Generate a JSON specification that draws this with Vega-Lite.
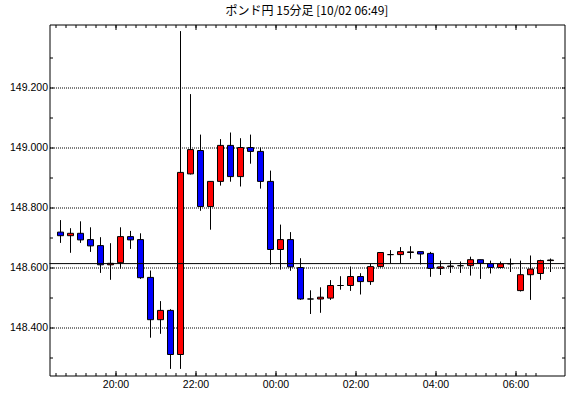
{
  "$schema": "https://vega.github.io/schema/vega-lite/v6.json",
  "width": 515,
  "height": 351,
  "autosize": {"type": "none"},
  "padding": {"left": 49.5, "top": 24.5, "right": 5.5, "bottom": 22.5},
  "background": "white",
  "title": {
    "text": "ポンド円 15分足 [10/02 06:49]",
    "font": "Noto Sans CJK JP",
    "fontSize": 12,
    "fontWeight": "normal",
    "color": "black",
    "anchor": "middle",
    "frame": "group",
    "offset": 6
  },
  "config": {
    "view": {"stroke": "black", "strokeWidth": 1},
    "axis": {
      "domain": false,
      "grid": false,
      "tickColor": "black",
      "tickWidth": 1,
      "labelColor": "black",
      "labelFont": "Liberation Sans",
      "labelFontSize": 10.5,
      "labelOverlap": false,
      "labelFlush": false,
      "labelBound": false,
      "title": null
    }
  },
  "data": {
    "values": [
      {"t": "2023-10-01T18:30:00Z", "o": 148.718, "h": 148.758, "l": 148.682, "c": 148.706},
      {"t": "2023-10-01T18:45:00Z", "o": 148.706, "h": 148.731, "l": 148.649, "c": 148.714},
      {"t": "2023-10-01T19:00:00Z", "o": 148.714, "h": 148.754, "l": 148.682, "c": 148.692},
      {"t": "2023-10-01T19:15:00Z", "o": 148.693, "h": 148.734, "l": 148.652, "c": 148.672},
      {"t": "2023-10-01T19:30:00Z", "o": 148.673, "h": 148.701, "l": 148.582, "c": 148.609},
      {"t": "2023-10-01T19:45:00Z", "o": 148.609, "h": 148.681, "l": 148.559, "c": 148.614},
      {"t": "2023-10-01T20:00:00Z", "o": 148.616, "h": 148.734, "l": 148.596, "c": 148.703},
      {"t": "2023-10-01T20:15:00Z", "o": 148.703, "h": 148.722, "l": 148.662, "c": 148.692},
      {"t": "2023-10-01T20:30:00Z", "o": 148.693, "h": 148.714, "l": 148.562, "c": 148.566},
      {"t": "2023-10-01T20:45:00Z", "o": 148.567, "h": 148.590, "l": 148.366, "c": 148.426},
      {"t": "2023-10-01T21:00:00Z", "o": 148.426, "h": 148.488, "l": 148.379, "c": 148.457},
      {"t": "2023-10-01T21:15:00Z", "o": 148.457, "h": 148.461, "l": 148.262, "c": 148.310},
      {"t": "2023-10-01T21:30:00Z", "o": 148.310, "h": 149.388, "l": 148.262, "c": 148.917},
      {"t": "2023-10-01T21:45:00Z", "o": 148.912, "h": 149.178, "l": 148.910, "c": 148.993},
      {"t": "2023-10-01T22:00:00Z", "o": 148.990, "h": 149.043, "l": 148.789, "c": 148.803},
      {"t": "2023-10-01T22:15:00Z", "o": 148.803, "h": 148.887, "l": 148.726, "c": 148.887},
      {"t": "2023-10-01T22:30:00Z", "o": 148.887, "h": 149.028, "l": 148.873, "c": 149.007},
      {"t": "2023-10-01T22:45:00Z", "o": 149.007, "h": 149.050, "l": 148.886, "c": 148.903},
      {"t": "2023-10-01T23:00:00Z", "o": 148.903, "h": 149.031, "l": 148.870, "c": 149.000},
      {"t": "2023-10-01T23:15:00Z", "o": 149.000, "h": 149.043, "l": 148.946, "c": 148.987},
      {"t": "2023-10-01T23:30:00Z", "o": 148.987, "h": 149.000, "l": 148.863, "c": 148.887},
      {"t": "2023-10-01T23:45:00Z", "o": 148.887, "h": 148.923, "l": 148.609, "c": 148.660},
      {"t": "2023-10-02T00:00:00Z", "o": 148.660, "h": 148.743, "l": 148.593, "c": 148.693},
      {"t": "2023-10-02T00:15:00Z", "o": 148.693, "h": 148.718, "l": 148.589, "c": 148.602},
      {"t": "2023-10-02T00:30:00Z", "o": 148.600, "h": 148.631, "l": 148.492, "c": 148.495},
      {"t": "2023-10-02T00:45:00Z", "o": 148.495, "h": 148.524, "l": 148.445, "c": 148.495},
      {"t": "2023-10-02T01:00:00Z", "o": 148.495, "h": 148.534, "l": 148.449, "c": 148.501},
      {"t": "2023-10-02T01:15:00Z", "o": 148.498, "h": 148.558, "l": 148.492, "c": 148.540},
      {"t": "2023-10-02T01:30:00Z", "o": 148.540, "h": 148.571, "l": 148.526, "c": 148.540},
      {"t": "2023-10-02T01:45:00Z", "o": 148.540, "h": 148.603, "l": 148.522, "c": 148.570},
      {"t": "2023-10-02T02:00:00Z", "o": 148.570, "h": 148.581, "l": 148.510, "c": 148.553},
      {"t": "2023-10-02T02:15:00Z", "o": 148.553, "h": 148.613, "l": 148.542, "c": 148.603},
      {"t": "2023-10-02T02:30:00Z", "o": 148.603, "h": 148.650, "l": 148.600, "c": 148.650},
      {"t": "2023-10-02T02:45:00Z", "o": 148.643, "h": 148.658, "l": 148.613, "c": 148.643},
      {"t": "2023-10-02T03:00:00Z", "o": 148.643, "h": 148.668, "l": 148.613, "c": 148.653},
      {"t": "2023-10-02T03:15:00Z", "o": 148.650, "h": 148.671, "l": 148.629, "c": 148.652},
      {"t": "2023-10-02T03:30:00Z", "o": 148.653, "h": 148.653, "l": 148.610, "c": 148.645},
      {"t": "2023-10-02T03:45:00Z", "o": 148.647, "h": 148.652, "l": 148.569, "c": 148.597},
      {"t": "2023-10-02T04:00:00Z", "o": 148.597, "h": 148.623, "l": 148.575, "c": 148.602},
      {"t": "2023-10-02T04:15:00Z", "o": 148.603, "h": 148.623, "l": 148.582, "c": 148.605},
      {"t": "2023-10-02T04:30:00Z", "o": 148.606, "h": 148.620, "l": 148.582, "c": 148.606},
      {"t": "2023-10-02T04:45:00Z", "o": 148.606, "h": 148.636, "l": 148.573, "c": 148.626},
      {"t": "2023-10-02T05:00:00Z", "o": 148.626, "h": 148.626, "l": 148.562, "c": 148.614},
      {"t": "2023-10-02T05:15:00Z", "o": 148.613, "h": 148.623, "l": 148.580, "c": 148.600},
      {"t": "2023-10-02T05:30:00Z", "o": 148.600, "h": 148.620, "l": 148.597, "c": 148.612},
      {"t": "2023-10-02T05:45:00Z", "o": 148.612, "h": 148.630, "l": 148.585, "c": 148.613},
      {"t": "2023-10-02T06:00:00Z", "o": 148.523, "h": 148.623, "l": 148.520, "c": 148.576},
      {"t": "2023-10-02T06:15:00Z", "o": 148.576, "h": 148.640, "l": 148.492, "c": 148.595},
      {"t": "2023-10-02T06:30:00Z", "o": 148.580, "h": 148.626, "l": 148.559, "c": 148.623},
      {"t": "2023-10-02T06:45:00Z", "o": 148.623, "h": 148.630, "l": 148.585, "c": 148.625}
    ]
  },
  "layer": [
    {
      "mark": {"type": "rule", "color": "black", "strokeWidth": 1, "xOffset": 5},
      "encoding": {
        "x": {
          "field": "t",
          "type": "temporal",
          "scale": {"type": "utc", "domain": [1696184460000, 1696230810000], "padding": 0},
          "axis": {
            "orient": "bottom",
            "values": [1696185000000, 1696185900000, 1696186800000, 1696187700000, 1696188600000, 1696189500000, 1696190400000, 1696191300000, 1696192200000, 1696193100000, 1696194000000, 1696194900000, 1696195800000, 1696196700000, 1696197600000, 1696198500000, 1696199400000, 1696200300000, 1696201200000, 1696202100000, 1696203000000, 1696203900000, 1696204800000, 1696205700000, 1696206600000, 1696207500000, 1696208400000, 1696209300000, 1696210200000, 1696211100000, 1696212000000, 1696212900000, 1696213800000, 1696214700000, 1696215600000, 1696216500000, 1696217400000, 1696218300000, 1696219200000, 1696220100000, 1696221000000, 1696221900000, 1696222800000, 1696223700000, 1696224600000, 1696225500000, 1696226400000, 1696227300000, 1696228200000],
            "labels": false,
            "offset": -3,
            "tickSize": 3
          }
        },
        "y": {
          "field": "l",
          "type": "quantitative",
          "scale": {"domain": [148.24, 149.41], "nice": false, "zero": false, "padding": 0},
          "axis": {
            "orient": "left",
            "values": [148.3, 148.5, 148.7, 148.9, 149.1, 149.3],
            "labels": false,
            "offset": -3,
            "tickSize": 3
          }
        },
        "y2": {"field": "h"}
      }
    },
    {
      "transform": [{"filter": "datum.c > datum.o"}],
      "mark": {"type": "bar", "size": 6, "xOffset": 5, "color": "#ff0000", "stroke": "black", "strokeWidth": 1},
      "encoding": {
        "x": {
          "field": "t",
          "type": "temporal",
          "scale": {"type": "utc", "domain": [1696184460000, 1696230810000], "padding": 0},
          "axis": {
            "orient": "bottom",
            "values": [1696190400000, 1696197600000, 1696204800000, 1696212000000, 1696219200000, 1696226400000],
            "format": "%H:%M",
            "offset": -5,
            "tickSize": 5,
            "labelPadding": 4
          }
        },
        "y": {
          "field": "o",
          "type": "quantitative",
          "scale": {"domain": [148.24, 149.41], "nice": false, "zero": false, "padding": 0},
          "axis": {
            "orient": "left",
            "values": [148.4, 148.6, 148.8, 149.0, 149.2],
            "format": ".3f",
            "offset": -4,
            "tickSize": 4,
            "labelPadding": 2,
            "grid": true,
            "gridColor": "black",
            "gridDash": [1, 1],
            "gridWidth": 1
          }
        },
        "y2": {"field": "c"}
      }
    },
    {
      "transform": [{"filter": "datum.c < datum.o"}],
      "mark": {"type": "bar", "size": 6, "xOffset": 5, "color": "#0000ff", "stroke": "black", "strokeWidth": 1},
      "encoding": {
        "x": {
          "field": "t",
          "type": "temporal",
          "scale": {"type": "utc", "domain": [1696184460000, 1696230810000], "padding": 0},
          "axis": {
            "orient": "top",
            "values": [1696185000000, 1696185900000, 1696186800000, 1696187700000, 1696188600000, 1696189500000, 1696190400000, 1696191300000, 1696192200000, 1696193100000, 1696194000000, 1696194900000, 1696195800000, 1696196700000, 1696197600000, 1696198500000, 1696199400000, 1696200300000, 1696201200000, 1696202100000, 1696203000000, 1696203900000, 1696204800000, 1696205700000, 1696206600000, 1696207500000, 1696208400000, 1696209300000, 1696210200000, 1696211100000, 1696212000000, 1696212900000, 1696213800000, 1696214700000, 1696215600000, 1696216500000, 1696217400000, 1696218300000, 1696219200000, 1696220100000, 1696221000000, 1696221900000, 1696222800000, 1696223700000, 1696224600000, 1696225500000, 1696226400000, 1696227300000, 1696228200000],
            "labels": false,
            "offset": -3,
            "tickSize": 3
          }
        },
        "y": {
          "field": "o",
          "type": "quantitative",
          "scale": {"domain": [148.24, 149.41], "nice": false, "zero": false, "padding": 0},
          "axis": {
            "orient": "right",
            "values": [148.3, 148.4, 148.5, 148.6, 148.7, 148.8, 148.9, 149.0, 149.1, 149.2, 149.3],
            "labels": false,
            "offset": -3,
            "tickSize": 3
          }
        },
        "y2": {"field": "c"}
      }
    },
    {
      "transform": [{"filter": "datum.c == datum.o"}],
      "mark": {"type": "bar", "size": 6, "xOffset": 5, "color": "black", "stroke": "black", "strokeWidth": 1},
      "encoding": {
        "x": {
          "field": "t",
          "type": "temporal",
          "scale": {"type": "utc", "domain": [1696184460000, 1696230810000], "padding": 0},
          "axis": {
            "orient": "top",
            "values": [1696190400000, 1696197600000, 1696204800000, 1696212000000, 1696219200000, 1696226400000],
            "labels": false,
            "offset": -5,
            "tickSize": 5
          }
        },
        "y": {
          "field": "o",
          "type": "quantitative",
          "scale": {"domain": [148.24, 149.41], "nice": false, "zero": false, "padding": 0},
          "axis": null
        },
        "y2": {"field": "c"}
      }
    },
    {
      "data": {"values": [{"p": 148.613}]},
      "mark": {"type": "rule", "color": "black", "strokeWidth": 1},
      "encoding": {
        "y": {"field": "p", "type": "quantitative", "axis": null}
      }
    }
  ],
  "resolve": {"axis": {"x": "independent", "y": "independent"}}
}
